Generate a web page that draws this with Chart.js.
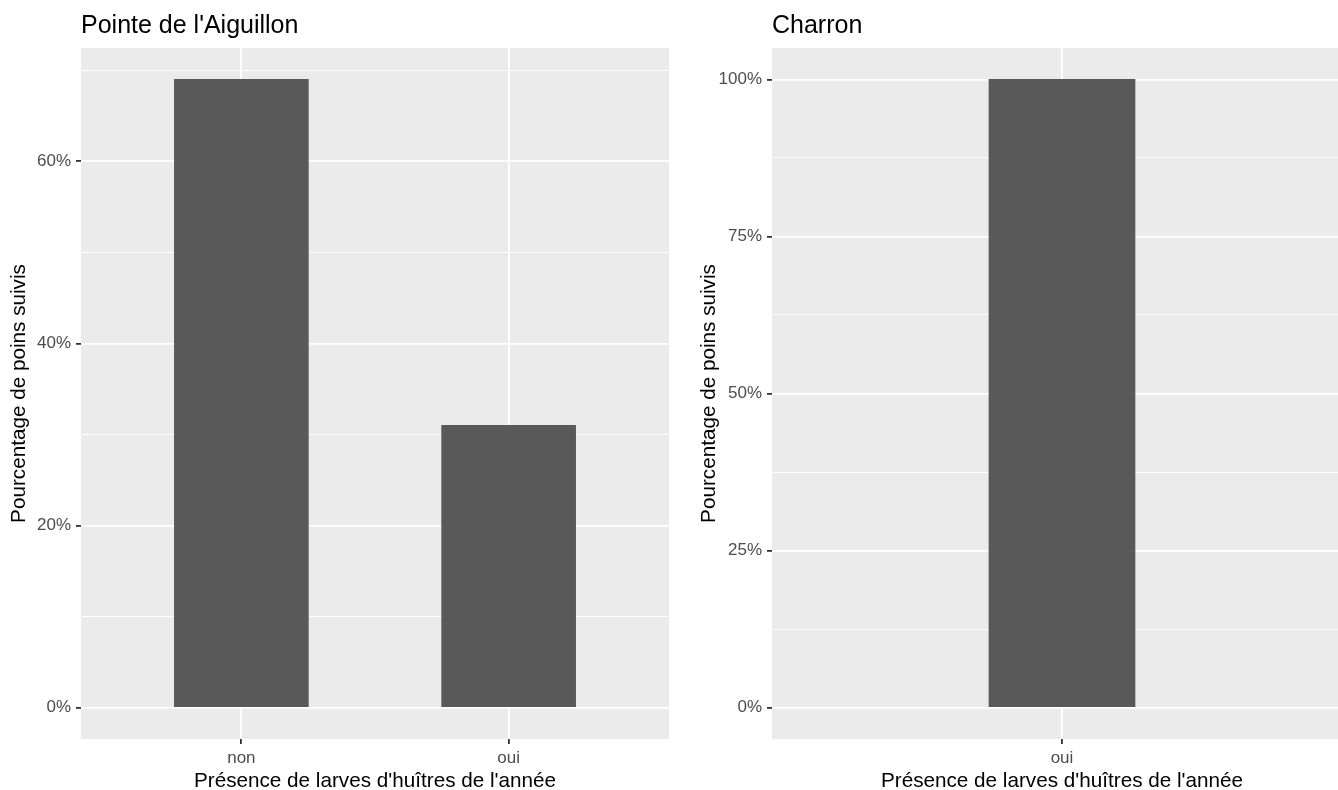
<!DOCTYPE html>
<html>
<head>
<meta charset="utf-8">
<script src="https://cdn.jsdelivr.net/npm/chart.js@4/dist/chart.umd.min.js"></script>
<style>
  html, body { margin: 0; padding: 0; background: #fff; overflow: hidden; width: 1338px; height: 790px; }
  canvas { position: absolute; top: 0; }
  #left { left: 0; }
  #right { left: 690px; }
</style>
</head>
<body>
<canvas id="left" width="690" height="794"></canvas>
<canvas id="right" width="662" height="794"></canvas>
<script>
// Pointe de l'Aiguillon
const leftTitle = "Pointe de l'Aiguillon";
const leftCategories = ['non', 'oui'];
const leftValues = [69, 31];
const leftMajorTicks = [0, 20, 40, 60];
const leftMinorTicks = [10, 30, 50, 70];

// Charron
const rightTitle = 'Charron';
const rightCategories = ['oui'];
const rightValues = [100];
const rightMajorTicks = [0, 25, 50, 75, 100];
const rightMinorTicks = [12.5, 37.5, 62.5, 87.5];

const xTitle = "Présence de larves d'huîtres de l'année";
const yTitle = 'Pourcentage de poins suivis';

const FONT = "'Liberation Sans', Arial, sans-serif";
const PANEL_BG = '#EBEBEB';
const BAR_COLOR = '#595959';

// grey panel behind the grid
const panelBackground = {
    id: 'panelBackground',
    beforeDraw(chart) {
        const { ctx, chartArea: a } = chart;
        ctx.save();
        ctx.fillStyle = PANEL_BG;
        ctx.fillRect(a.left, a.top, a.right - a.left, a.bottom - a.top);
        ctx.restore();
    }
};

// ggplot style title, left aligned on the panel
const panelTitle = {
    id: 'panelTitle',
    afterDraw(chart, args, opts) {
        const { ctx, chartArea: a } = chart;
        ctx.save();
        ctx.font = `25px ${FONT}`;
        ctx.fillStyle = '#000';
        ctx.textAlign = 'left';
        ctx.textBaseline = 'alphabetic';
        ctx.fillText(opts.text, a.left, 33);
        ctx.restore();
    }
};

function makePanel(canvasId, title, categories, values, majorTicks, minorTicks, opts) {
    const maxVal = Math.max(...values);
    const pad = maxVal * 0.05;
    const yTicks = [...majorTicks, ...minorTicks].sort((a, b) => a - b);
    const isMajor = v => majorTicks.includes(v);

    return new Chart(document.getElementById(canvasId), {
        type: 'bar',
        data: {
            datasets: [{
                data: categories.map((c, i) => ({ x: i + 1, y: values[i] })),
                backgroundColor: BAR_COLOR,
                borderWidth: 0,
                barThickness: opts.barThickness
            }]
        },
        options: {
            responsive: false,
            animation: false,
            layout: { padding: { top: 48, right: opts.rightPad, left: 0, bottom: 0 } },
            plugins: {
                legend: { display: false },
                tooltip: { enabled: false },
                panelTitle: { text: title }
            },
            scales: {
                x: {
                    type: 'linear',
                    offset: false,
                    min: 0.4,
                    max: categories.length + 0.6,
                    afterBuildTicks: scale => {
                        scale.ticks = categories.map((c, i) => ({ value: i + 1 }));
                    },
                    afterFit: scale => { scale.height = 794 - 739; },
                    border: { display: false },
                    grid: {
                        offset: false,
                        color: '#fff',
                        lineWidth: 1.8,
                        tickLength: 5,
                        tickColor: '#333',
                        tickWidth: 1.8
                    },
                    ticks: {
                        autoSkip: false,
                        padding: 4,
                        color: '#4D4D4D',
                        font: { family: FONT, size: 17 },
                        callback: v => categories[Math.round(v) - 1]
                    },
                    title: {
                        display: true,
                        text: xTitle,
                        color: '#000',
                        font: { family: FONT, size: 20.7 },
                        padding: { top: 0, bottom: 0 }
                    }
                },
                y: {
                    type: 'linear',
                    min: -pad,
                    max: maxVal + pad,
                    afterBuildTicks: scale => {
                        scale.ticks = yTicks.map(v => ({ value: v }));
                    },
                    afterFit: scale => { scale.width = opts.yWidth; },
                    border: { display: false },
                    grid: {
                        color: '#fff',
                        lineWidth: ctx => isMajor(ctx.tick.value) ? 1.8 : 0.9,
                        tickLength: 5,
                        tickColor: ctx => isMajor(ctx.tick.value) ? '#333' : 'rgba(0,0,0,0)',
                        tickWidth: 1.8
                    },
                    ticks: {
                        autoSkip: false,
                        padding: 5,
                        color: '#4D4D4D',
                        font: { family: FONT, size: 17 },
                        callback: v => isMajor(v) ? v + '%' : ''
                    },
                    title: {
                        display: true,
                        text: yTitle,
                        color: '#000',
                        font: { family: FONT, size: 20.7 },
                        padding: { top: 7, bottom: 0 }
                    }
                }
            }
        },
        plugins: [panelBackground, panelTitle]
    });
}

makePanel('left', leftTitle, leftCategories, leftValues, leftMajorTicks, leftMinorTicks,
    { barThickness: 134, rightPad: 21, yWidth: 81 });
makePanel('right', rightTitle, rightCategories, rightValues, rightMajorTicks, rightMinorTicks,
    { barThickness: 146, rightPad: 0, yWidth: 82 });
</script>
</body>
</html>
